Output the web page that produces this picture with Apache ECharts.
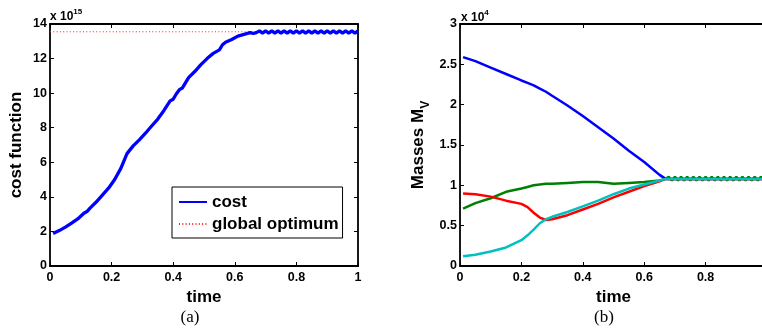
<!DOCTYPE html>
<html>
<head>
<meta charset="utf-8">
<script src="https://cdn.jsdelivr.net/npm/echarts@6/dist/echarts.min.js"></script>
<style>
html, body { margin: 0; padding: 0; background: #fff; }
#main { width: 762px; height: 334px; }
</style>
</head>
<body>
<div id="main"></div>
<script>
// panel (a): cost function, values in units of 1e15
const costTime = [0.01, 0.03, 0.05, 0.07, 0.09, 0.11, 0.12, 0.13, 0.15, 0.17, 0.19, 0.21, 0.23, 0.25, 0.27, 0.29,
    0.31, 0.33, 0.35, 0.37, 0.39, 0.40, 0.41, 0.42, 0.43, 0.45, 0.47, 0.49, 0.51, 0.53, 0.55, 0.56, 0.57, 0.59,
    0.61, 0.63, 0.65, 0.66, 0.67, 0.68, 0.69, 0.70, 0.71, 0.72, 0.73, 0.74, 0.75, 0.76, 0.77, 0.78, 0.79, 0.80,
    0.81, 0.82, 0.83, 0.84, 0.85, 0.86, 0.87, 0.88, 0.89, 0.90, 0.91, 0.92, 0.93, 0.94, 0.95, 0.96, 0.97, 0.98,
    0.99, 1.00];
const costValue = [1.88, 2.05, 2.25, 2.48, 2.72, 3.05, 3.15, 3.35, 3.7, 4.1, 4.5, 5.0, 5.65, 6.5, 6.95, 7.3,
    7.68, 8.1, 8.5, 9.0, 9.55, 9.65, 9.95, 10.2, 10.3, 10.9, 11.25, 11.65, 12.0, 12.3, 12.5, 12.8, 12.95, 13.1,
    13.3, 13.4, 13.5, 13.45, 13.5, 13.6, 13.47, 13.6, 13.47, 13.6, 13.47, 13.6, 13.47, 13.6, 13.47, 13.6, 13.47, 13.6,
    13.47, 13.6, 13.47, 13.6, 13.47, 13.6, 13.47, 13.6, 13.47, 13.6, 13.47, 13.6, 13.47, 13.6, 13.47, 13.6, 13.47, 13.6,
    13.47, 13.6];
const optimumTime = [0, 1];
const optimumValue = [13.55, 13.55];

// panel (b): masses, values in units of 1e4
const massTime = [0.01, 0.05, 0.10, 0.15, 0.20, 0.22, 0.24, 0.26, 0.28, 0.30, 0.35, 0.40, 0.45, 0.50, 0.55, 0.60,
    0.65, 0.67, 0.68, 0.69, 0.70, 0.71, 0.72, 0.73, 0.74, 0.75, 0.76, 0.77, 0.78, 0.79, 0.80, 0.81, 0.82, 0.83,
    0.84, 0.85, 0.86, 0.87, 0.88, 0.89, 0.90, 0.91, 0.92, 0.93, 0.94, 0.95, 0.96, 0.97, 0.98, 0.99, 1.00];
const massBlue = [2.59, 2.54, 2.46, 2.38, 2.30, 2.27, 2.24, 2.20, 2.16, 2.11, 1.99, 1.86, 1.72, 1.58, 1.43, 1.29,
    1.13, 1.08, 1.08, 1.08, 1.08, 1.08, 1.08, 1.08, 1.08, 1.08, 1.08, 1.08, 1.08, 1.08, 1.08, 1.08, 1.08, 1.08,
    1.08, 1.08, 1.08, 1.08, 1.08, 1.08, 1.08, 1.08, 1.08, 1.08, 1.08, 1.08, 1.08, 1.08, 1.08, 1.08, 1.08];
const massGreen = [0.71, 0.78, 0.84, 0.92, 0.96, 0.98, 1.00, 1.01, 1.02, 1.02, 1.03, 1.04, 1.04, 1.02, 1.03, 1.04,
    1.06, 1.08, 1.105, 1.06, 1.105, 1.06, 1.105, 1.06, 1.105, 1.06, 1.105, 1.06, 1.105, 1.06, 1.105, 1.06, 1.105, 1.06,
    1.105, 1.06, 1.105, 1.06, 1.105, 1.06, 1.105, 1.06, 1.105, 1.06, 1.105, 1.06, 1.105, 1.06, 1.105, 1.06, 1.105];
const massRed = [0.90, 0.89, 0.86, 0.81, 0.77, 0.73, 0.66, 0.60, 0.57, 0.58, 0.63, 0.70, 0.77, 0.85, 0.92, 0.99,
    1.05, 1.08, 1.08, 1.08, 1.08, 1.08, 1.08, 1.08, 1.08, 1.08, 1.08, 1.08, 1.08, 1.08, 1.08, 1.08, 1.08, 1.08,
    1.08, 1.08, 1.08, 1.08, 1.08, 1.08, 1.08, 1.08, 1.08, 1.08, 1.08, 1.08, 1.08, 1.08, 1.08, 1.08, 1.08];
const massCyan = [0.12, 0.14, 0.18, 0.23, 0.32, 0.38, 0.45, 0.53, 0.58, 0.61, 0.67, 0.74, 0.81, 0.89, 0.96, 1.01,
    1.06, 1.08, 1.08, 1.08, 1.08, 1.08, 1.08, 1.08, 1.08, 1.08, 1.08, 1.08, 1.08, 1.08, 1.08, 1.08, 1.08, 1.08,
    1.08, 1.08, 1.08, 1.08, 1.08, 1.08, 1.08, 1.08, 1.08, 1.08, 1.08, 1.08, 1.08, 1.08, 1.08, 1.08, 1.08];

const pairs = (xs, ys) => xs.map((x, i) => [x, ys[i]]);

const font = 'Liberation Sans, Arial, sans-serif';
const axisLine = { onZero: false, lineStyle: { color: '#000', width: 1.8 } };
const axisTick = { inside: true, length: 4, lineStyle: { color: '#000', width: 1 } };
const tickLabel = { color: '#000', fontSize: 12.5, fontWeight: 'bold', fontFamily: font };
const titleStyle = { color: '#000', fontSize: 17, fontWeight: 'bold', fontFamily: font };

function xAxisFor(grid, position) {
    const bottom = position === 'bottom';
    return {
        type: 'value', gridIndex: grid, position: position, min: 0, max: 1, interval: 0.2,
        axisLine: axisLine, axisTick: axisTick, splitLine: { show: false },
        axisLabel: Object.assign({ show: bottom, margin: 5 }, tickLabel),
        name: bottom ? 'time' : '', nameLocation: 'middle', nameGap: 15, nameTextStyle: titleStyle
    };
}

function yAxisFor(grid, position, max, interval, name) {
    const left = position === 'left';
    return {
        type: 'value', gridIndex: grid, position: position, min: 0, max: max, interval: interval,
        axisLine: axisLine, axisTick: axisTick, splitLine: { show: false },
        axisLabel: Object.assign({ show: left, margin: 3 }, tickLabel),
        name: left ? name : '', nameLocation: 'middle', nameGap: grid === 0 ? 25 : 28,
        nameTextStyle: Object.assign({
            rich: {
                a: { fontSize: 17, fontWeight: 'bold', fontFamily: font, color: '#000', verticalAlign: 'bottom', padding: [0, 0, 5, 0] },
                s: { fontSize: 12, fontWeight: 'bold', fontFamily: font, color: '#000', verticalAlign: 'bottom' }
            }
        }, titleStyle)
    };
}

function lineSeries(name, data, xi, yi, color, width, type) {
    return {
        name: name, type: 'line', xAxisIndex: xi, yAxisIndex: yi, data: data,
        symbol: 'none', silent: true, animation: false,
        lineStyle: { color: color, width: width, type: type || 'solid' },
        itemStyle: { color: color }
    };
}

const myChart = echarts.init(document.getElementById('main'));

const option = {
    animation: false,
    grid: [
        { left: 50, top: 24, width: 308, height: 242, outerBoundsMode: 'none' },
        { left: 460, top: 24, width: 307, height: 242, outerBoundsMode: 'none' }
    ],
    legend: {
        data: ['cost', 'global optimum'],
        orient: 'vertical',
        left: 172, top: 187,
        padding: [6, 4, 5, 6],
        itemGap: 4, itemWidth: 28, itemHeight: 14,
        borderColor: '#000', borderWidth: 1, backgroundColor: '#fff',
        itemStyle: { opacity: 0 },
        textStyle: { color: '#000', fontSize: 17, fontWeight: 'bold', fontFamily: font, lineHeight: 18 },
        selectedMode: false
    },
    xAxis: [xAxisFor(0, 'bottom'), xAxisFor(0, 'top'), xAxisFor(1, 'bottom'), xAxisFor(1, 'top')],
    yAxis: [
        yAxisFor(0, 'left', 14, 2, 'cost function'),
        yAxisFor(0, 'right', 14, 2, ''),
        yAxisFor(1, 'left', 3, 0.5, '{a|Masses M}{s|V}'),
        yAxisFor(1, 'right', 3, 0.5, '')
    ],
    graphic: [
        {
            type: 'text', left: 50, top: 8,
            style: {
                text: '{a|x 10}{b|15}',
                rich: {
                    a: { fontSize: 12, fontWeight: 'bold', fontFamily: font, fill: '#000', verticalAlign: 'bottom' },
                    b: { fontSize: 8, fontWeight: 'bold', fontFamily: font, fill: '#000', verticalAlign: 'bottom', padding: [0, 0, 7, 0] }
                }
            }
        },
        {
            type: 'text', left: 461, top: 9,
            style: {
                text: '{a|x 10}{b|4}',
                rich: {
                    a: { fontSize: 12, fontWeight: 'bold', fontFamily: font, fill: '#000', verticalAlign: 'bottom' },
                    b: { fontSize: 8, fontWeight: 'bold', fontFamily: font, fill: '#000', verticalAlign: 'bottom', padding: [0, 0, 7, 0] }
                }
            }
        },
        {
            type: 'text', x: 190, y: 318,
            style: { text: '(a)', fontSize: 17, fontFamily: 'Liberation Serif, serif', fill: '#000', align: 'center', verticalAlign: 'middle' }
        },
        {
            type: 'text', x: 604, y: 318,
            style: { text: '(b)', fontSize: 17, fontFamily: 'Liberation Serif, serif', fill: '#000', align: 'center', verticalAlign: 'middle' }
        }
    ],
    series: [
        lineSeries('global optimum', pairs(optimumTime, optimumValue), 0, 0, '#ff2020', 1, [1, 2.3]),
        lineSeries('cost', pairs(costTime, costValue), 0, 0, '#0000ff', 3.3),
        lineSeries('blue', pairs(massTime, massBlue), 2, 2, '#0000ff', 2.5),
        lineSeries('green', pairs(massTime, massGreen), 2, 2, '#008000', 2.5),
        lineSeries('red', pairs(massTime, massRed), 2, 2, '#ff0000', 2.5),
        lineSeries('cyan', pairs(massTime, massCyan), 2, 2, '#00c0c0', 2.5)
    ]
};

myChart.setOption(option);
</script>
</body>
</html>
